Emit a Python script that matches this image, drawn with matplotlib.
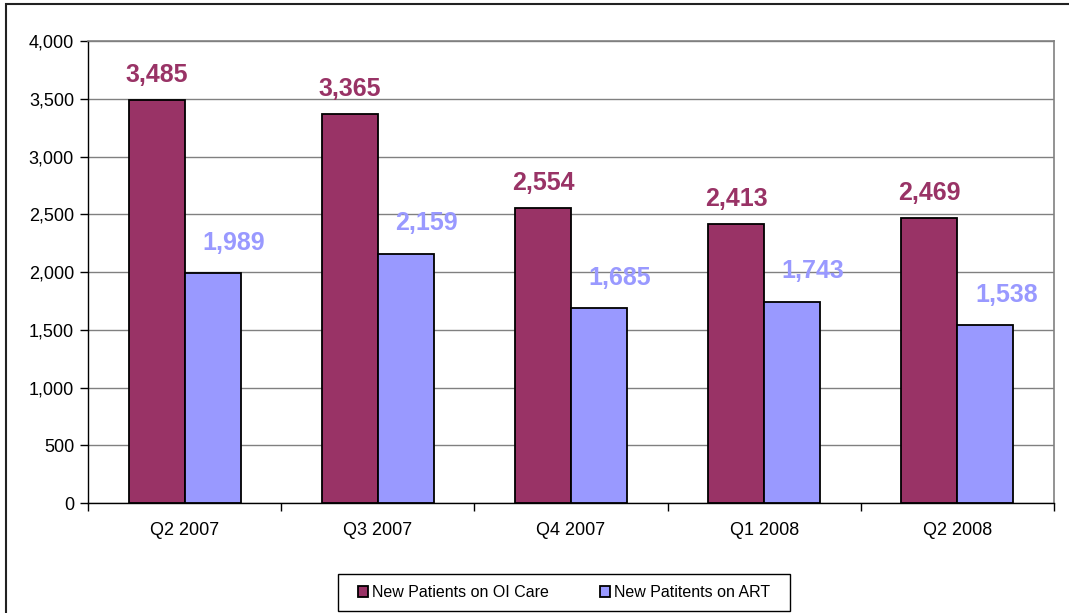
import numpy as np
import matplotlib.pyplot as plt
from matplotlib.patches import Rectangle

# datos del gráfico
trimestres = ['Q2 2007', 'Q3 2007', 'Q4 2007', 'Q1 2008', 'Q2 2008']
oi_care = [3485, 3365, 2554, 2413, 2469]
art = [1989, 2159, 1685, 1743, 1538]
series = ['New Patients on OI Care', 'New Patitents on ART']

plt.rcParams['font.family'] = ['Liberation Sans', 'DejaVu Sans']

c_oi = '#993366'
c_art = '#9999FF'

fig = plt.figure(figsize=(10.69, 6.13), dpi=100)
ax = fig.add_axes([0.0823, 0.1794, 0.9037, 0.7537])

# borde exterior del gráfico
fig.patches.append(Rectangle((0.0056, -0.01), 1.2, 1.003, transform=fig.transFigure,
                             fill=False, edgecolor='#222222', linewidth=1.5))

x = np.arange(len(trimestres))
w = 0.29
b1 = ax.bar(x - w / 2, oi_care, w, color=c_oi, edgecolor='black', linewidth=1.3,
            label=series[0], zorder=3)
b2 = ax.bar(x + w / 2, art, w, color=c_art, edgecolor='black', linewidth=1.3,
            label=series[1], zorder=3)

# etiquetas: las de ART van corridas a la derecha como en el original
for barras, vals, col, dx, dy in [(b1, oi_care, c_oi, 0, 13), (b2, art, c_art, 15, 17)]:
    for r, v in zip(barras, vals):
        ax.annotate(f'{v:,}', (r.get_x() + r.get_width() / 2, v),
                    xytext=(dx, dy), textcoords='offset points',
                    ha='center', va='baseline', fontsize=18, fontweight='bold', color=col)

ax.set_xlim(-0.5, len(trimestres) - 0.5)
ax.set_ylim(0, 4000)
ax.set_yticks(np.arange(0, 4001, 500))
ax.set_yticklabels([f'{v:,}' for v in range(0, 4001, 500)], fontsize=13)
ax.set_xticks(x)
ax.set_xticklabels(trimestres, fontsize=13)
ax.set_xticks(np.arange(-0.5, len(trimestres)), minor=True)
ax.tick_params(axis='x', which='major', length=0, pad=14)
ax.tick_params(axis='x', which='minor', length=6, width=1, direction='out')
ax.tick_params(axis='y', length=6, width=1, direction='out', pad=4)

ax.yaxis.grid(True, color='#808080', linewidth=1, zorder=0)
ax.set_axisbelow(True)
for s in ['top', 'right']:
    ax.spines[s].set_color('#808080')
    ax.spines[s].set_linewidth(1.2)
for s in ['left', 'bottom']:
    ax.spines[s].set_color('black')
    ax.spines[s].set_linewidth(1)

# caja de la leyenda aparte, para tener más margen a los lados
fig.patches.append(Rectangle((0.3162, 0.0033), 0.4228, 0.0604, transform=fig.transFigure,
                             fill=False, edgecolor='black', linewidth=1))
leg = fig.legend(loc='center', bbox_to_anchor=(0.5276, 0.0335), ncol=2, fontsize=11.5,
                 frameon=False, handlelength=0.65, handleheight=0.65,
                 columnspacing=3.2, handletextpad=0.25, borderpad=0, borderaxespad=0)

fig.savefig('out.png', dpi=100)
